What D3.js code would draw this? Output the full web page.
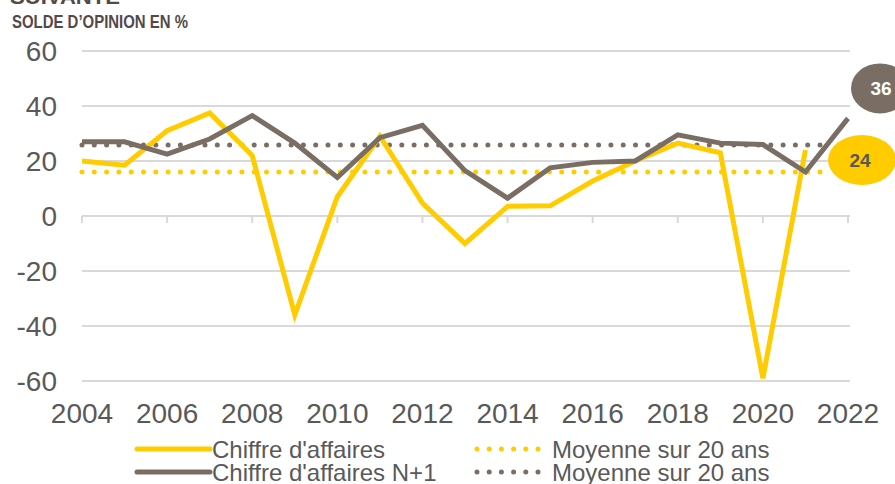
<!DOCTYPE html>
<html lang="fr">
<head>
  <meta charset="UTF-8">
  <title>Solde d'opinion</title>
  <script type="text/javascript" src="https://cdn.jsdelivr.net/npm/d3@7"></script>
  <style type="text/css">
  body {
    margin: 0;
    padding: 0;
    background: #fff;
  }
  svg {
    display: block;
    font-family: "Liberation Sans", Arial, sans-serif;
  }
  .grid line {
    stroke: #d9d9d9;
    stroke-width: 2px;
  }
  .tickLabel {
    fill: #595959;
    font-size: 28px;
  }
  .legendText {
    fill: #595959;
    font-size: 24px;
  }
  .title {
    fill: #54494a;
    font-family: "Liberation Sans Narrow", "Arial Narrow", "Liberation Sans", sans-serif;
    font-weight: bold;
  }
  </style>
</head>
<body>
  <div id="chart"></div>
</body>
<script type="text/javascript">
  // années et valeurs
  var years = [2004, 2005, 2006, 2007, 2008, 2009, 2010, 2011, 2012, 2013,
               2014, 2015, 2016, 2017, 2018, 2019, 2020, 2021, 2022];
  var chiffre = [20, 18.5, 31, 37.5, 22, -36, 7, 29, 4.7, -10,
                 3.5, 3.7, 12.7, 20, 26.5, 23, -59, 24];
  var chiffreN1 = [27, 27, 22.5, 28, 36.5, 26.5, 14, 28.5, 33, 16.5,
                   6.5, 17.5, 19.5, 20, 29.5, 26.5, 26, 16, 35.5];
  var moyChiffre = 16;
  var moyChiffreN1 = 25.8;
  var yTicks = [60, 40, 20, 0, -20, -40, -60];
  var xTicks = [2004, 2006, 2008, 2010, 2012, 2014, 2016, 2018, 2020, 2022];
  var legendLabels = ["Chiffre d'affaires", "Chiffre d'affaires N+1",
                      "Moyenne sur 20 ans", "Moyenne sur 20 ans"];

  var width = 895, height = 484;
  var yellow = '#ffcc00', grey = '#7a6e64';

  var svg = d3.select('#chart')
    .append('svg')
    .attr('width', width)
    .attr('height', height);

  var xScale = d3.scaleLinear()
    .domain([2004, 2022])
    .range([82, 848]);

  var yScale = d3.scaleLinear()
    .domain([-60, 60])
    .range([381, 51]);

  // titre (coupé en haut), police étroite simulée avec textLength
  svg.append('text')
    .attr('class', 'title')
    .attr('x', 10)
    .attr('y', 4)
    .attr('textLength', 110)
    .attr('lengthAdjust', 'spacingAndGlyphs')
    .style('font-size', '21px')
    .text('SUIVANTE');
  svg.append('text')
    .attr('class', 'title')
    .attr('x', 12)
    .attr('y', 28)
    .attr('textLength', 176)
    .attr('lengthAdjust', 'spacingAndGlyphs')
    .style('font-size', '18px')
    .text('SOLDE D\u2019OPINION EN %');

  // grille
  svg.append('g')
    .attr('class', 'grid')
    .selectAll('line')
    .data(yTicks)
    .enter()
    .append('line')
    .attr('x1', xScale(2004))
    .attr('x2', xScale(2022) + 2)
    .attr('y1', function(d){ return yScale(d); })
    .attr('y2', function(d){ return yScale(d); });

  // petites graduations sur la ligne zéro
  svg.append('g')
    .attr('class', 'grid')
    .selectAll('line')
    .data(xTicks)
    .enter()
    .append('line')
    .attr('x1', function(d){ return xScale(d); })
    .attr('x2', function(d){ return xScale(d); })
    .attr('y1', yScale(0))
    .attr('y2', yScale(0) + 7);

  // étiquettes axe y
  svg.selectAll('.yLabel')
    .data(yTicks)
    .enter()
    .append('text')
    .attr('class', 'tickLabel yLabel')
    .attr('x', 57)
    .attr('y', function(d){ return yScale(d); })
    .attr('dy', '0.36em')
    .attr('text-anchor', 'end')
    .text(function(d){ return d; });

  // étiquettes axe x
  svg.selectAll('.xLabel')
    .data(xTicks)
    .enter()
    .append('text')
    .attr('class', 'tickLabel xLabel')
    .attr('x', function(d){ return xScale(d); })
    .attr('y', 423)
    .attr('text-anchor', 'middle')
    .text(function(d){ return d; });

  // moyennes pointillées
  var lastAvgYear = 2021.5;
  function avgLine(v, color) {
    svg.append('line')
      .attr('x1', xScale(2004))
      .attr('x2', xScale(lastAvgYear))
      .attr('y1', yScale(v))
      .attr('y2', yScale(v))
      .attr('stroke', color)
      .attr('stroke-width', 5)
      .attr('stroke-linecap', 'round')
      .attr('stroke-dasharray', '0 12.3');
  }
  avgLine(moyChiffre, yellow);
  avgLine(moyChiffreN1, grey);

  var line = d3.line()
    .x(function(d, i){ return xScale(years[i]); })
    .y(function(d){ return yScale(d); });

  svg.append('path')
    .datum(chiffre)
    .attr('d', line)
    .attr('fill', 'none')
    .attr('stroke', yellow)
    .attr('stroke-width', 5);

  svg.append('path')
    .datum(chiffreN1)
    .attr('d', line)
    .attr('fill', 'none')
    .attr('stroke', grey)
    .attr('stroke-width', 5);

  // bulles de dernière valeur
  var lastC = chiffre[chiffre.length - 1];
  var lastN = chiffreN1[chiffreN1.length - 1];

  svg.append('ellipse')
    .attr('cx', xScale(2022) + 32)
    .attr('cy', yScale(lastN) - 30)
    .attr('rx', 29)
    .attr('ry', 25)
    .attr('fill', grey);
  svg.append('text')
    .attr('x', xScale(2022) + 33)
    .attr('y', yScale(lastN) - 30)
    .attr('dy', '0.36em')
    .attr('text-anchor', 'middle')
    .attr('fill', '#fff')
    .style('font-size', '19px')
    .style('font-weight', 'bold')
    .text(Math.round(lastN));

  svg.append('ellipse')
    .attr('cx', xScale(2022) + 14)
    .attr('cy', yScale(lastC) + 10)
    .attr('rx', 34)
    .attr('ry', 25)
    .attr('fill', yellow);
  svg.append('text')
    .attr('x', xScale(2022) + 12)
    .attr('y', yScale(lastC) + 10)
    .attr('dy', '0.36em')
    .attr('text-anchor', 'middle')
    .attr('fill', '#595959')
    .style('font-size', '19px')
    .style('font-weight', 'bold')
    .text(Math.round(lastC));

  // légende
  var legend = [
    {label: legendLabels[0], color: yellow, dotted: false, x: 137, y: 449},
    {label: legendLabels[1], color: grey, dotted: false, x: 137, y: 472},
    {label: legendLabels[2], color: yellow, dotted: true, x: 477, y: 449},
    {label: legendLabels[3], color: grey, dotted: true, x: 477, y: 472}
  ];

  legend.forEach(function(d){
    if (d.dotted) {
      svg.append('line')
        .attr('x1', d.x).attr('x2', d.x + 62)
        .attr('y1', d.y).attr('y2', d.y)
        .attr('stroke', d.color)
        .attr('stroke-width', 5)
        .attr('stroke-linecap', 'round')
        .attr('stroke-dasharray', '0 12.2');
    } else {
      svg.append('line')
        .attr('x1', d.x).attr('x2', d.x + 73)
        .attr('y1', d.y).attr('y2', d.y)
        .attr('stroke', d.color)
        .attr('stroke-width', 5)
        .attr('stroke-linecap', 'round');
    }
    svg.append('text')
      .attr('class', 'legendText')
      .attr('x', d.x + 75)
      .attr('y', d.y)
      .attr('dy', '0.36em')
      .text(d.label);
  });
</script>
</html>
